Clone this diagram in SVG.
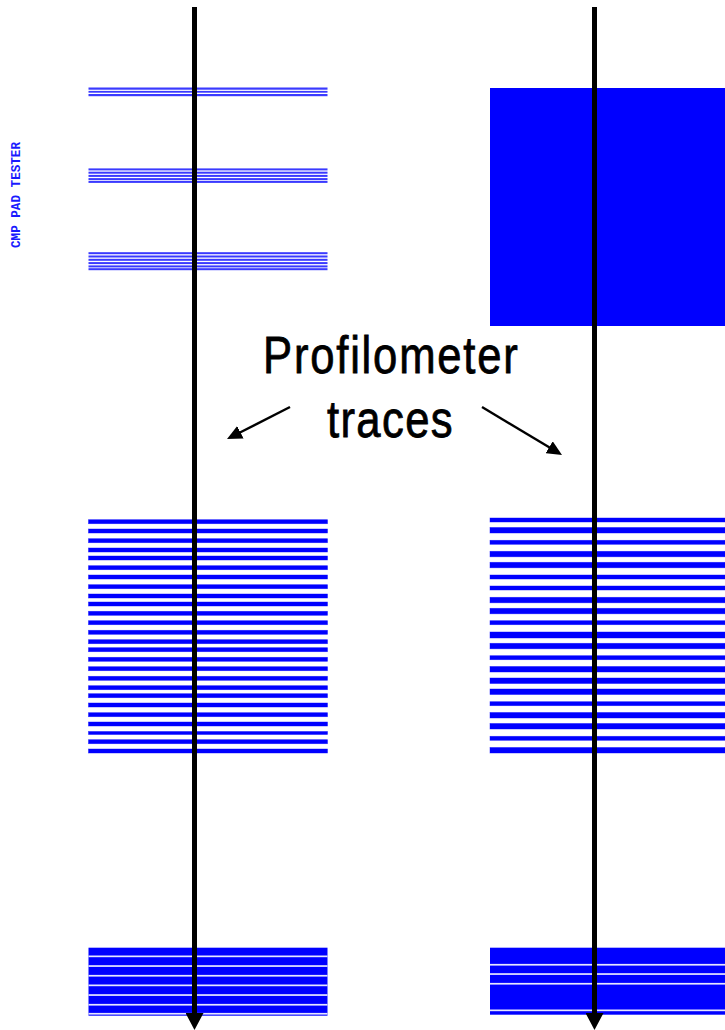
<svg xmlns="http://www.w3.org/2000/svg" width="725" height="1030" viewBox="0 0 725 1030">
<style>
.p{fill:#0000ff}
.l{fill:#0000ff;stroke:#0000ff;stroke-width:.7;stroke-opacity:.6}
.g{fill:#e6e6ff}
.f{fill:#3a3aff}
.t{fill:#000;stroke:#000;stroke-width:.8;font-family:"Liberation Sans",Arial,sans-serif;font-size:52px}
.s{stroke:#000;stroke-width:5;fill:none}
.n{stroke:#000;stroke-width:2.4;fill:none}
</style>
<defs>
<marker id="big" markerUnits="userSpaceOnUse" markerWidth="18" markerHeight="18" refX="0" refY="9" orient="auto"><path d="M0 0L17 9L0 18Z" fill="#000"/></marker>
<marker id="small" markerUnits="userSpaceOnUse" markerWidth="16" markerHeight="14" refX="1" refY="7" orient="auto"><path d="M0 0L15 7L0 14Z" fill="#000"/></marker>
<g id="fine1"><rect x="88.5" y="87.5" width="239" height="2.2"/><rect x="88.5" y="90.9" width="239" height="1.8"/><rect x="88.5" y="94" width="239" height="2.2"/></g>
</defs>
<rect width="725" height="1030" fill="#fff"/>
<g id="label-tester"><text transform="translate(20 248) rotate(-90)" textLength="106" lengthAdjust="spacingAndGlyphs" style="font-family:'Liberation Mono',monospace;font-size:12.5px;font-weight:700" fill="#1a1aff">CMP PAD TESTER</text></g>
<g id="left-fine" class="f">
<use href="#fine1"/>
<rect x="88.5" y="168.4" width="239" height="2"/><rect x="88.5" y="171.7" width="239" height="2"/><rect x="88.5" y="174.9" width="239" height="2"/><rect x="88.5" y="178.1" width="239" height="2"/><rect x="88.5" y="180.9" width="239" height="2"/>
<rect x="88.5" y="252.2" width="239" height="2"/><rect x="88.5" y="255.5" width="239" height="2"/><rect x="88.5" y="258.8" width="239" height="2"/><rect x="88.5" y="262.1" width="239" height="2"/><rect x="88.5" y="265.4" width="239" height="2"/><rect x="88.5" y="268.2" width="239" height="2"/>
</g>
<g id="right-solid" class="p"><rect x="490" y="88" width="235" height="238"/></g>
<g id="left-lines" class="l">
<rect x="88.5" y="519.7" width="239" height="4"/><rect x="88.5" y="529" width="239" height="4"/><rect x="88.5" y="538.7" width="239" height="4"/><rect x="88.5" y="548" width="239" height="4"/><rect x="88.5" y="556" width="239" height="4"/><rect x="88.5" y="565.7" width="239" height="4"/><rect x="88.5" y="575" width="239" height="4"/><rect x="88.5" y="584.7" width="239" height="4"/><rect x="88.5" y="594" width="239" height="4"/><rect x="88.5" y="602" width="239" height="4"/><rect x="88.5" y="611.3" width="239" height="4"/><rect x="88.5" y="620.7" width="239" height="4"/><rect x="88.5" y="630.3" width="239" height="4"/><rect x="88.5" y="639.7" width="239" height="4"/><rect x="88.5" y="647.7" width="239" height="4"/><rect x="88.5" y="657.3" width="239" height="4"/><rect x="88.5" y="666.7" width="239" height="4"/><rect x="88.5" y="676.3" width="239" height="4"/><rect x="88.5" y="685.7" width="239" height="4"/><rect x="88.5" y="693.7" width="239" height="4"/><rect x="88.5" y="703" width="239" height="4"/><rect x="88.5" y="712.7" width="239" height="4"/><rect x="88.5" y="722" width="239" height="4"/><rect x="88.5" y="731.5" width="239" height="3"/><rect x="88.5" y="739.7" width="239" height="4"/><rect x="88.5" y="749" width="239" height="4"/>
</g>
<g id="right-lines" class="l">
<rect x="490" y="518" width="235" height="4"/><rect x="490" y="527.5" width="235" height="5.5"/><rect x="490" y="540.3" width="235" height="4"/><rect x="490" y="551.3" width="235" height="5.5"/><rect x="490" y="562.3" width="235" height="5.5"/><rect x="490" y="575" width="235" height="4"/><rect x="490" y="586" width="235" height="4"/><rect x="490" y="597.3" width="235" height="5.5"/><rect x="490" y="608.3" width="235" height="5.5"/><rect x="490" y="620.7" width="235" height="4"/><rect x="490" y="632" width="235" height="6"/><rect x="490" y="643.3" width="235" height="5.5"/><rect x="490" y="655.7" width="235" height="4"/><rect x="490" y="666.5" width="235" height="5.5"/><rect x="490" y="678" width="235" height="5.5"/><rect x="490" y="689" width="235" height="5.5"/><rect x="490" y="701.7" width="235" height="4"/><rect x="490" y="712.5" width="235" height="5.5"/><rect x="490" y="723.5" width="235" height="5.5"/><rect x="490" y="736.3" width="235" height="4"/><rect x="490" y="747.5" width="235" height="5.5"/>
</g>
<g id="left-bottom">
<rect class="p" x="88.5" y="947.7" width="239" height="68"/>
<g class="g"><rect x="88.5" y="955.5" width="239" height="1.7"/><rect x="88.5" y="965.2" width="239" height="1.7"/><rect x="88.5" y="974.9" width="239" height="1.7"/><rect x="88.5" y="984.5" width="239" height="1.7"/><rect x="88.5" y="994.2" width="239" height="1.7"/><rect x="88.5" y="1003.9" width="239" height="1.7"/><rect x="88.5" y="1012.9" width="239" height="1.7"/></g>
</g>
<g id="right-bottom">
<rect class="p" x="490" y="947.7" width="235" height="67"/>
<g class="g"><rect x="490" y="963.9" width="235" height="1.7"/><rect x="490" y="973.2" width="235" height="1.7"/><rect x="490" y="982.9" width="235" height="1.7"/><rect x="490" y="1009.5" width="235" height="1.7"/></g>
</g>
<g id="connectors">
<line class="s" x1="194.5" y1="7" x2="194.5" y2="1013" marker-end="url(#big)"/>
<line class="s" x1="594.5" y1="7" x2="594.5" y2="1013" marker-end="url(#big)"/>
<line class="n" x1="290" y1="407" x2="239.5" y2="432.7" marker-end="url(#small)"/>
<line class="n" x1="482" y1="407" x2="550" y2="447.8" marker-end="url(#small)"/>
</g>
<g id="label-traces">
<text class="t" transform="translate(263 373) scale(.84 1)" letter-spacing="2.1">Profilometer</text>
<text class="t" transform="translate(327 437) scale(.84 1)" letter-spacing="1.6">traces</text>
</g>
</svg>
